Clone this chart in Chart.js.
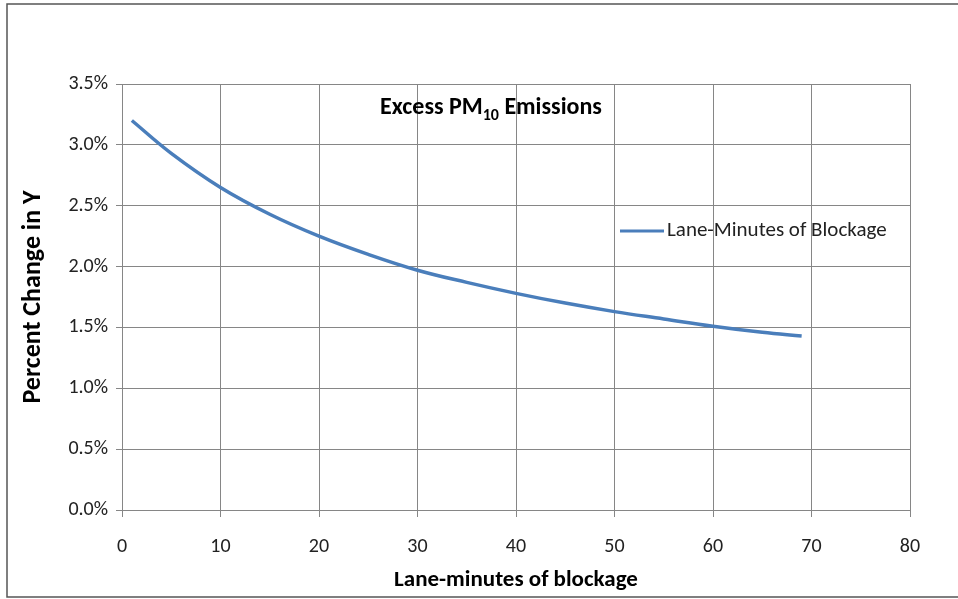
<!DOCTYPE html>
<html>
<head>
<meta charset="utf-8">
<script src="https://cdn.jsdelivr.net/npm/chart.js@4"></script>
<style>
  body { margin: 0; background: #fff; }
  #wrap { width: 958px; height: 599px; position: relative; }
</style>
</head>
<body>
<div id="wrap"><canvas id="myChart" width="958" height="599"></canvas></div>
<script>
// lane-minutes of blockage (x) and percent change in Y
const laneMinutes = [1, 5, 10, 15, 20, 25, 30, 35, 40, 45, 50, 55, 60, 65, 69];
const pctChange = [3.20, 2.93, 2.65, 2.43, 2.25, 2.10, 1.97, 1.87, 1.78, 1.70, 1.63, 1.57, 1.51, 1.46, 1.43];
const seriesName = 'Lane-Minutes of Blockage';

const FONT = "Carlito, Lato, 'Liberation Sans', sans-serif";
const lineColor = '#4a7ebb';
const gridColor = '#868686';

// draws the frame, the in-plot title with subscript and the legend
const extras = {
    id: 'extras',
    afterDraw(chart) {
        const ctx = chart.ctx;
        ctx.save();
        // outer frame
        ctx.strokeStyle = '#555';
        ctx.lineWidth = 1.5;
        ctx.strokeRect(7, 4, 960, 593);

        // title "Excess PM10 Emissions"
        const y = 108;
        ctx.fillStyle = '#000';
        ctx.textBaseline = 'middle';
        ctx.textAlign = 'left';
        const big = 'bold 24px ' + FONT;
        const small = 'bold 16px ' + FONT;
        const p1 = 'Excess PM', sub = '10', p2 = ' Emissions';
        ctx.font = big; const w1 = ctx.measureText(p1).width, w3 = ctx.measureText(p2).width;
        ctx.font = small; const w2 = ctx.measureText(sub).width;
        let x = 491 - (w1 + w2 + w3) / 2;
        ctx.font = big; ctx.fillText(p1, x, y); x += w1;
        ctx.font = small; ctx.fillText(sub, x, y + 8); x += w2;
        ctx.font = big; ctx.fillText(p2, x, y);

        // legend
        ctx.strokeStyle = lineColor;
        ctx.lineWidth = 3;
        ctx.beginPath();
        ctx.moveTo(620, 231);
        ctx.lineTo(664, 231);
        ctx.stroke();
        ctx.font = '21px ' + FONT;
        ctx.fillStyle = '#222';
        ctx.fillText(seriesName, 667, 231);
        ctx.restore();
    }
};

const data = {
    datasets: [{
        label: seriesName,
        data: laneMinutes.map((m, i) => ({ x: m, y: pctChange[i] })),
        borderColor: lineColor,
        borderWidth: 3.5,
        pointRadius: 0,
        tension: 0.4,
        fill: false
    }]
};

const config = {
    type: 'line',
    data: data,
    options: {
        responsive: false,
        animation: false,
        layout: { padding: { left: 0, top: 84, right: 48, bottom: 0 } },
        scales: {
            x: {
                type: 'linear',
                min: 0,
                max: 80,
                afterFit: (scale) => { scale.height = 89; },
                ticks: {
                    stepSize: 10,
                    color: '#222',
                    padding: 18,
                    maxRotation: 0,
                    font: { family: FONT, size: 20 }
                },
                grid: { color: gridColor, lineWidth: 1, tickLength: 7 },
                border: { color: gridColor },
                title: {
                    display: true,
                    text: 'Lane-minutes of blockage',
                    color: '#000',
                    padding: { top: 0, bottom: 5 },
                    font: { family: FONT, size: 23, weight: 'bold' }
                }
            },
            y: {
                min: 0,
                max: 3.5,
                afterFit: (scale) => { scale.width = 122; },
                ticks: {
                    stepSize: 0.5,
                    color: '#222',
                    padding: 8,
                    callback: (v) => v.toFixed(1) + '%',
                    font: { family: FONT, size: 20 }
                },
                grid: { color: gridColor, lineWidth: 1, tickLength: 6 },
                border: { color: gridColor },
                title: {
                    display: true,
                    text: 'Percent Change in Y',
                    color: '#000',
                    padding: { top: 18, bottom: 0 },
                    font: { family: FONT, size: 26, weight: 'bold' }
                }
            }
        },
        plugins: {
            legend: { display: false },
            tooltip: { enabled: false }
        }
    },
    plugins: [extras]
};

const myChart = new Chart(document.getElementById('myChart'), config);
</script>
</body>
</html>
